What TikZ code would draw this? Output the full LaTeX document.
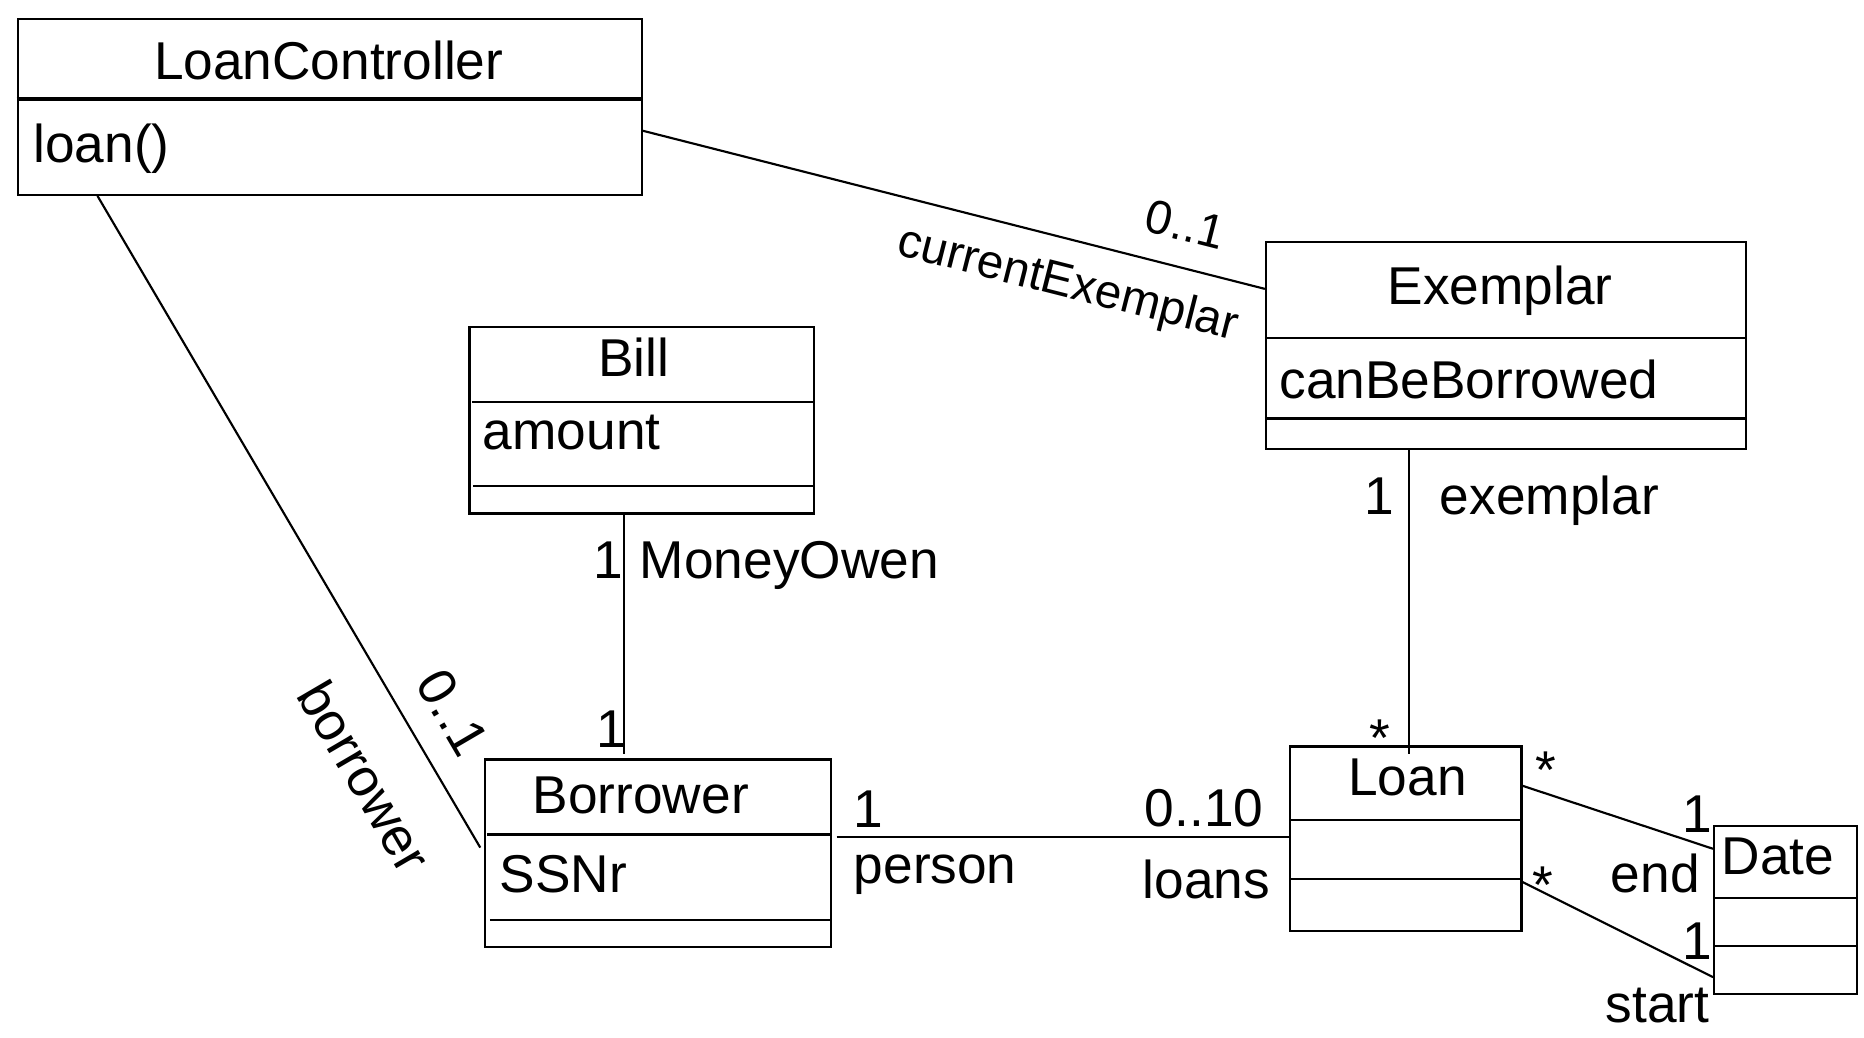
\documentclass[tikz,border=0pt]{standalone}
\usepackage{fontspec}
\setmainfont{Liberation Sans}
\usetikzlibrary{calc}
\newcommand\fbig{\fontsize{44.8}{54}\selectfont}
\newcommand\fsml{\fontsize{40}{48}\selectfont}
\begin{document}
\begin{tikzpicture}[x=1pt,y=-1pt,
  cls/.style={draw, line width=1.8pt, inner sep=0pt, anchor=north west},
  conn/.style={line width=1.8pt},
  sep/.style={line width=1.8pt},
  txt/.style={inner sep=0pt, font=\fbig},
  stxt/.style={inner sep=0pt, font=\fsml}]
\useasboundingbox (0,0) rectangle (1568,873);
\fill[white] (0,0) rectangle (1568,873);

% class boxes
\node[cls, minimum width=525pt, minimum height=148pt] (lc) at (14,15) {};
\node[cls, minimum width=404pt, minimum height=174pt] (ex) at (1064,203) {};
\node[cls, minimum width=290pt, minimum height=157pt] (bill) at (394,274) {};
\node[cls, minimum width=291pt, minimum height=158pt] (bor) at (407,638) {};
\node[cls, minimum width=195pt, minimum height=155pt] (loan) at (1084,627) {};
\node[cls, minimum width=120pt, minimum height=141pt] (date) at (1441,694) {};

% compartments
\draw[line width=3.5pt] ($(lc.north west)+(0,68)$) -- ($(lc.north east)+(0,68)$);
\draw[sep] ($(ex.north west)+(0,81)$) -- ($(ex.north east)+(0,81)$);
\draw[sep] ($(ex.north west)+(0,149)$) -- ($(ex.north east)+(0,149)$);
\draw[sep] ($(bill.north west)+(3,64)$) -- ($(bill.north east)+(-2,64)$);
\draw[sep] ($(bill.north west)+(4,135)$) -- ($(bill.north east)+(-1,135)$);
\draw[sep] ($(bor.north west)+(3,64)$) -- ($(bor.north east)+(-2,64)$);
\draw[sep] ($(bor.north west)+(5,136)$) -- ($(bor.north east)+(-1,136)$);
\draw[sep] ($(loan.north west)+(2,63)$) -- ($(loan.north east)+(-2,63)$);
\draw[sep] ($(loan.north west)+(2,112.5)$) -- ($(loan.north east)+(-2,112.5)$);
\draw[sep] ($(date.north west)+(0,61.5)$) -- ($(date.north east)+(0,61.5)$);
\draw[sep] ($(date.north west)+(0,102)$) -- ($(date.north east)+(0,102)$);

% class texts
\node[txt, anchor=base] (lct) at (276.5,67) {LoanController};
\node[txt, anchor=base west] (lcm) at (28,137) {loan()};
\node[txt, anchor=base] (ext) at (1262,256) {Exemplar};
\node[txt, anchor=base west] (exa) at (1076,335) {canBeBorrowed};
\node[txt, anchor=base] (billt) at (533,317) {Bill};
\node[txt, anchor=base west] (billa) at (406,378) {amount};
\node[txt, anchor=base] (bort) at (539,684) {Borrower};
\node[txt, anchor=base west] (bora) at (420,751) {SSNr};
\node[txt, anchor=base] (loant) at (1184,669) {Loan};
\node[txt, anchor=base west] (datet) at (1448,736) {Date};

% connectors
\coordinate (c1a) at ($(lc.north east)+(0,95)$);
\coordinate (c1b) at ($(ex.north west)+(0,40)$);
\draw[conn] (c1a) -- (c1b);
\coordinate (c2a) at ($(lc.south west)+(68,0)$);
\coordinate (c2b) at ($(bor.north west)+(-3,75)$);
\draw[conn] (c2a) -- (c2b);
\coordinate (c3a) at ($(bill.south west)+(131,0)$);
\coordinate (c3b) at ($(bor.north west)+(118,-4)$);
\draw[conn] (c3a) -- (c3b);
\coordinate (c4a) at ($(ex.south west)+(121,0)$);
\coordinate (c4b) at ($(loan.north west)+(101,7)$);
\draw[conn] (c4a) -- (c4b);
\coordinate (c5a) at ($(bor.north east)+(4,66)$);
\coordinate (c5b) at ($(loan.north west)+(0,77)$);
\draw[conn] (c5a) -- (c5b);
\coordinate (c6a) at ($(loan.north east)+(0,34)$);
\coordinate (c6b) at ($(date.north west)+(0,20)$);
\draw[conn] (c6a) -- (c6b);
\coordinate (c7a) at ($(loan.north east)+(0,115)$);
\coordinate (c7b) at ($(date.north west)+(0,128)$);
\draw[conn] (c7a) -- (c7b);

% association labels
\node[stxt, rotate=-14.2] (l1) at (898,240) {currentExemplar};
\node[stxt, rotate=-14.2] (l2) at (997,189) {0..1};
\node[txt, rotate=-59.65] (l3) at (307,653) {borrower};
\node[txt, rotate=-59.65] (l4) at (381,599) {0..1};
\node[txt, anchor=base] (l5) at (512,487) {1};
\node[txt, anchor=base west] (l6) at (538,487) {MoneyOwen};
\node[txt, anchor=base] (l7) at (514,629) {1};
\node[txt, anchor=base] (l8) at (1160,433) {1};
\node[txt, anchor=base west] (l9) at (1211,433) {exemplar};
\node[txt, anchor=base] (l10) at (1161,636) {*};
\node[txt, anchor=base] (l11) at (730,696) {1};
\node[txt, anchor=base west] (l12) at (718,743) {person};
\node[txt, anchor=base east] (l13) at (1063,695) {0..10};
\node[txt, anchor=base east] (l14) at (1068.5,755.5) {loans};
\node[txt, anchor=base] (l15) at (1300,663) {*};
\node[txt, anchor=base] (l16) at (1298,760) {*};
\node[txt, anchor=base] (l17) at (1428,700) {1};
\node[txt, anchor=base east] (l18) at (1430,751) {end};
\node[txt, anchor=base] (l19) at (1428,807) {1};
\node[txt, anchor=base east] (l20) at (1438,860) {start};
\end{tikzpicture}
\end{document}
